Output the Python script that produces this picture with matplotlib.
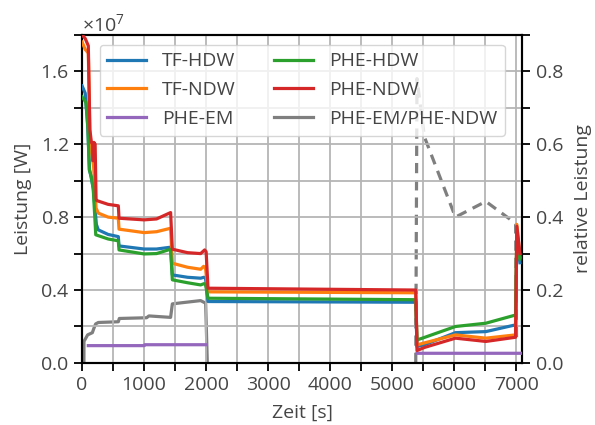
import matplotlib
matplotlib.use("Agg")
import matplotlib.pyplot as plt
from matplotlib.ticker import MultipleLocator, ScalarFormatter
import numpy as np

plt.rcParams['font.family'] = ['Open Sans', 'DejaVu Sans']
plt.rcParams['font.size'] = 14
TXT = '#454545'
plt.rcParams['text.color'] = TXT
plt.rcParams['axes.labelcolor'] = TXT
plt.rcParams['xtick.color'] = 'black'
plt.rcParams['ytick.color'] = 'black'
plt.rcParams['xtick.labelcolor'] = TXT
plt.rcParams['ytick.labelcolor'] = TXT
plt.rcParams['mathtext.fontset'] = 'custom'
plt.rcParams['mathtext.rm'] = 'Open Sans'
plt.rcParams['mathtext.default'] = 'regular'

# ---- data (power in units of 1e7 W, time in s) ----
t_tf_hdw = [0, 50, 90, 120, 180, 230, 261, 420, 584, 595, 1000, 1200, 1427, 1455, 1700, 1911, 1965, 1990, 2030, 5380, 5400, 5520, 6020, 6510, 6990, 7010, 7060]
tf_hdw   = [1.52, 1.48, 1.30, 1.06, 0.96, 0.76, 0.73, 0.705, 0.693, 0.642, 0.625, 0.625, 0.635, 0.483, 0.47, 0.465, 0.47, 0.465, 0.337, 0.333, 0.09, 0.10, 0.166, 0.172, 0.209, 0.70, 0.55]

t_tf_ndw = [0, 50, 100, 125, 150, 185, 225, 261, 420, 584, 595, 1000, 1200, 1427, 1455, 1700, 1911, 1960, 1990, 2030, 5380, 5400, 5520, 6020, 6510, 6990, 7010, 7060]
tf_ndw   = [1.76, 1.72, 1.70, 1.26, 1.16, 1.08, 0.85, 0.822, 0.80, 0.794, 0.734, 0.715, 0.72, 0.739, 0.547, 0.525, 0.514, 0.53, 0.52, 0.39, 0.385, 0.099, 0.11, 0.154, 0.136, 0.154, 0.76, 0.58]

t_phe_em = [100, 1000, 1010, 2000, 5380, 5400, 7070]
phe_em   = [0.095, 0.095, 0.10, 0.10, np.nan, 0.053, 0.053]

t_phe_hdw = [0, 60, 80, 95, 115, 150, 180, 220, 420, 584, 595, 1000, 1200, 1427, 1455, 1700, 1911, 1965, 1990, 2030, 5380, 5400, 5520, 6020, 6510, 6990, 7010, 7060]
phe_hdw   = [1.46, 1.43, 1.36, 1.28, 1.06, 1.02, 0.95, 0.703, 0.68, 0.67, 0.62, 0.598, 0.60, 0.624, 0.456, 0.44, 0.428, 0.435, 0.43, 0.355, 0.347, 0.126, 0.14, 0.20, 0.218, 0.263, 0.72, 0.57]

t_phe_ndw = [0, 50, 100, 125, 150, 170, 172, 188, 190, 210, 225, 234, 420, 584, 595, 1000, 1200, 1427, 1455, 1700, 1911, 1976, 2000, 2030, 5380, 5400, 5520, 6020, 6510, 6990, 7010, 7060]
phe_ndw   = [1.80, 1.78, 1.74, 1.28, 1.21, 1.20, 1.11, 1.11, 1.21, 1.20, 0.90, 0.891, 0.87, 0.862, 0.794, 0.785, 0.79, 0.825, 0.624, 0.605, 0.60, 0.62, 0.61, 0.41, 0.40, 0.068, 0.085, 0.136, 0.118, 0.141, 0.75, 0.60]

# relative power PHE-EM / PHE-NDW (right axis)
t_rel1 = [29, 30, 89, 165, 190, 218, 261, 584, 600, 1040, 1077, 1427, 1455, 1600, 1911, 1992, 2019]
rel1   = [0.0, 0.059, 0.077, 0.083, 0.095, 0.107, 0.111, 0.113, 0.122, 0.124, 0.129, 0.125, 0.162, 0.165, 0.171, 0.164, 0.0]

t_rel2 = [5380, 5400, 5520, 6020, 6510, 6990, 7005]
rel2   = [0.0, 0.78, 0.62, 0.40, 0.443, 0.383, 0.07]

# ---- figure ----
fig = plt.figure(figsize=(5.95, 4.25), dpi=100)
ax = fig.add_axes([0.138, 0.146, 0.740, 0.772])
ax2 = ax.twinx()

lw = 2.3
scale = 1e7
ax.plot(t_tf_hdw, np.array(tf_hdw) * scale, color='#1f77b4', lw=lw, label='TF-HDW', zorder=3)
ax.plot(t_tf_ndw, np.array(tf_ndw) * scale, color='#ff7f0e', lw=lw, label='TF-NDW', zorder=3)
ax.plot(t_phe_em, np.array(phe_em) * scale, color='#9467bd', lw=lw, label='PHE-EM', zorder=3)
ax.plot(t_phe_hdw, np.array(phe_hdw) * scale, color='#2ca02c', lw=lw, label='PHE-HDW', zorder=3)
ax.plot(t_phe_ndw, np.array(phe_ndw) * scale, color='#d62728', lw=lw, label='PHE-NDW', zorder=3)

ax2.plot(t_rel1, rel1, color='#7f7f7f', lw=lw, label='PHE-EM/PHE-NDW')
ax2.plot(t_rel2, rel2, color='#7f7f7f', lw=lw, ls=(0, (3.2, 2.2)))

ax.set_xlim(0, 7100)
ax.set_ylim(0, 1.8e7)
ax2.set_ylim(0, 0.9)

fmt = ScalarFormatter(useMathText=True)
fmt.set_powerlimits((0, 0))
ax.yaxis.set_major_formatter(fmt)

ax.xaxis.set_major_locator(MultipleLocator(1000))
ax.xaxis.set_minor_locator(MultipleLocator(500))
ax.yaxis.set_major_locator(MultipleLocator(0.4e7))
ax.yaxis.set_minor_locator(MultipleLocator(0.2e7))
ax2.yaxis.set_major_locator(MultipleLocator(0.2))
ax2.yaxis.set_minor_locator(MultipleLocator(0.1))

for a in (ax, ax2):
    a.tick_params(which='both', direction='out', length=6, width=1.3)
    for s in a.spines.values():
        s.set_linewidth(1.5)
        s.set_color('black')

ax.grid(True, which='both', color='#b5b5b5', lw=1.3, zorder=0)
ax.set_axisbelow(True)

ax.set_xlabel('Zeit [s]', labelpad=7)
ax.set_ylabel('Leistung [W]', labelpad=6)
ax2.set_ylabel('relative Leistung', labelpad=8)
ax.yaxis.get_offset_text().set_color(TXT)

ax.set_zorder(ax2.get_zorder() + 1)
ax.patch.set_visible(False)

h1, l1 = ax.get_legend_handles_labels()
h2, l2 = ax2.get_legend_handles_labels()
handles = [h1[0], h1[1], h1[2], h1[3], h1[4], h2[0]]
labels = [l1[0], l1[1], l1[2], l1[3], l1[4], l2[0]]
leg = ax.legend(handles, labels, loc='upper center', ncol=2, frameon=True,
                framealpha=0.8, edgecolor='#cccccc', columnspacing=2.0,
                labelspacing=0.55)

fig.savefig('out.png', dpi=100)
